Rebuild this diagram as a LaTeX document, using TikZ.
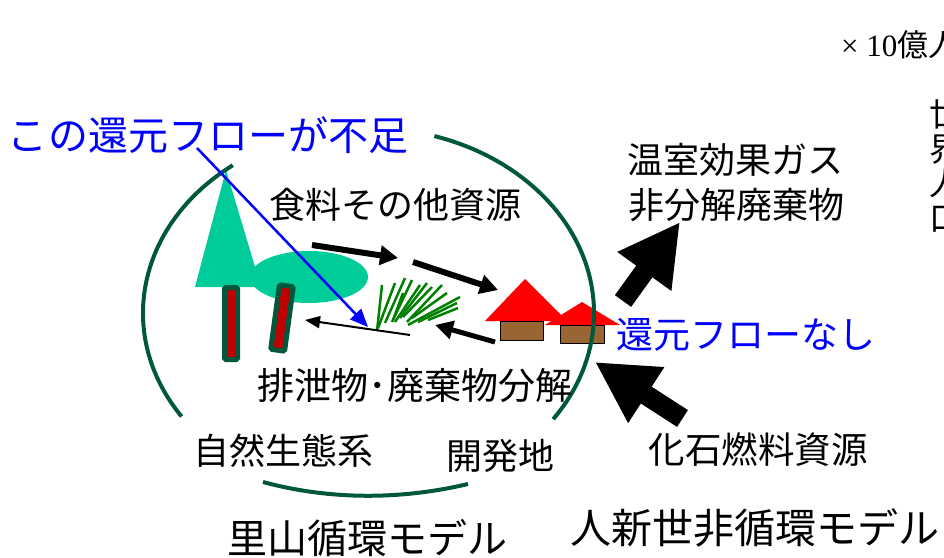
\documentclass[tikz,border=0pt]{standalone}
\usepackage{fontspec}
\setmainfont{Liberation Serif}
\newfontfamily\jp{Noto Sans CJK JP}
\usetikzlibrary{arrows.meta}

\definecolor{ringgreen}{RGB}{0,88,60}
\definecolor{crowngreen}{RGB}{0,204,153}
\definecolor{barkred}{RGB}{192,0,0}
\definecolor{roofred}{RGB}{255,0,0}
\definecolor{wallbrown}{RGB}{153,102,51}
\definecolor{grassgreen}{RGB}{0,128,0}
\definecolor{flowblue}{RGB}{0,0,255}

\tikzset{
  jt/.style={font={\jp\fontsize{#1pt}{#1pt}\selectfont}, inner sep=0pt},
  ring/.style={draw=ringgreen, line width=4pt},
  crown/.style={fill=crowngreen},
  trunk/.style={fill=barkred, draw=ringgreen, line width=5pt, rounded corners=1.5pt},
  roof/.style={fill=roofred},
  wall/.style={fill=wallbrown, draw={RGB:red,235;green,215;blue,190}, line width=0.8pt},
  blade/.style={draw=grassgreen, line width=2.5pt},
  flow/.style={line width=6pt, -{Triangle[length=18pt,width=19pt]}},
  backflow/.style={line width=5pt, -{Triangle[length=18pt,width=18pt]}},
  thinflow/.style={line width=2pt, -{Triangle[length=15pt,width=12pt]}},
  pointer/.style={draw=flowblue, line width=2.5pt, -{Triangle[length=18pt,width=15pt]}},
  bigflow/.style={line width=20pt, -{Triangle[length=61pt,width=62pt]}}
}

\begin{document}
\begin{tikzpicture}[x=1pt,y=-1pt]
\useasboundingbox (0,0) rectangle (944,557);

% forest: conifer crown, broadleaf crown and two trunks
\fill[crown] (195,287) -- (226,170) -- (261,287) -- cycle;
\fill[crown] (309,277) ellipse [x radius=59, y radius=26];
\draw[trunk] (224.5,287.5) rectangle (237.5,359.5);
\draw[trunk, shift={(282,318)}, rotate=-7.7] (-7,-32.5) rectangle (7,32.5);

% grass tuft
\foreach \ax/\ay/\bx/\by in {377/331/382/285, 378/328/395/283, 385/323/405/278,
  392/322/412/280, 395/322/420/285, 400/318/427/283, 403/317/432/287,
  407/322/442/285, 412/318/447/293, 408/325/460/297, 418/322/457/303,
  428/320/458/308, 393/320/403/293}
  \draw[blade] (\ax,\ay) -- (\bx,\by);

% houses of the developed area
\fill[roof] (485,321) -- (525,279) -- (567,321) -- cycle;
\draw[wall] (500,321) rectangle (543,340);
\fill[roof] (545,325) -- (582,302) -- (620,325) -- cycle;
\draw[wall] (560,325) rectangle (604,343);

% the satoyama ring, opened where labels sit
\draw[ring] (368.5,313) ++(-127:225.5 and 185)
  arc[start angle=-127, end angle=-214, x radius=225.5, y radius=185];
\draw[ring] (368.5,313) ++(-73:225.5 and 185)
  arc[start angle=-73, end angle=35, x radius=225.5, y radius=185];
\draw[ring] (263,482) .. controls (330,500) and (400,500) .. (468,484);

% end points of the flows
\coordinate (forestout) at (312,245);
\coordinate (grassin) at (398,258);
\coordinate (grassout) at (413,262);
\coordinate (housein) at (498,290);
\coordinate (houseout) at (495,342);
\coordinate (grassback) at (435,325);
\coordinate (decomp) at (410,335);
\coordinate (forestback) at (305,320);
\coordinate (lackstart) at (197,148);
\coordinate (lacktip) at (368,327);
\coordinate (wastebase) at (623,301);
\coordinate (wastetip) at (680,222);
\coordinate (fuelbase) at (682.5,418.5);
\coordinate (fueltip) at (595,362);

% labels
\node[jt=40, text=flowblue] (lack) at (208,135) {この還元フローが不足};
\node[jt=36] (food) at (395,205) {食料その他資源};
\node[jt=37] (waste) at (415,386) {排泄物･廃棄物分解};
\node[jt=36] (nature) at (283,451) {自然生態系};
\node[jt=36] (devel) at (500,456) {開発地};
\node[jt=40] (satoyama) at (367,538) {里山循環モデル};
\node[jt=41] (anthro) at (755,528) {人新世非循環モデル};
\node[jt=36] (ghg) at (735,160) {温室効果ガス};
\node[jt=36] (nondeg) at (736,205) {非分解廃棄物};
\node[jt=37, text=flowblue] (noreturn) at (746,335) {還元フローなし};
\node[jt=36.5] (fossil) at (758,450) {化石燃料資源};
\node[anchor=west, inner sep=0pt, font={\fontsize{31pt}{31pt}\selectfont}] (unit) at (841,45)
  {× 10{\jp\fontsize{31pt}{31pt}\selectfont 億人}};
\node[anchor=north west, inner sep=0pt, align=left,
  font={\jp\fontsize{33pt}{34.5pt}\selectfont}] (pop) at (929,99) {世\\界\\人\\口};

% flows
\draw[flow] (forestout) -- (grassin);
\draw[flow] (grassout) -- (housein);
\draw[backflow] (houseout) -- (grassback);
\draw[thinflow] (decomp) -- (forestback);
\draw[pointer] (lackstart) -- (lacktip);
\draw[bigflow] (wastebase) -- (wastetip);
\draw[bigflow] (fuelbase) -- (fueltip);
\end{tikzpicture}
\end{document}
